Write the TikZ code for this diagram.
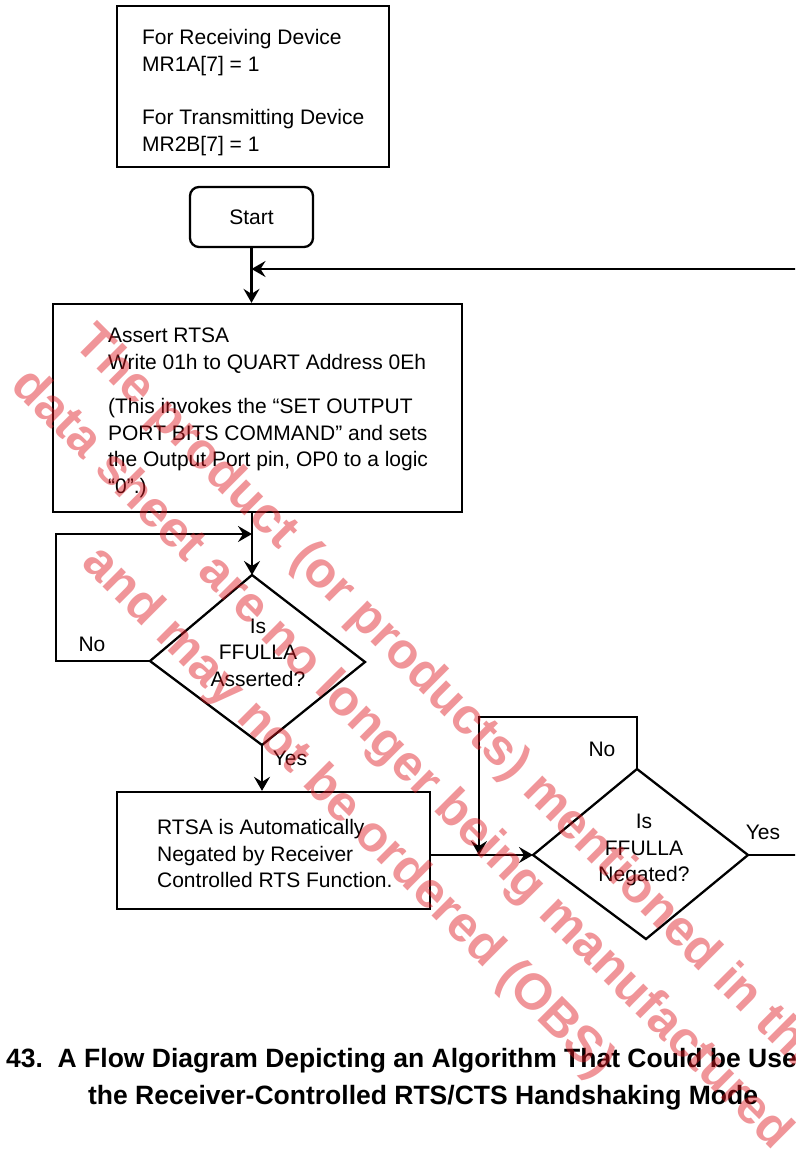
\documentclass[tikz,border=0pt]{standalone}
\usepackage{fontspec}
\setmainfont{Liberation Sans}
\usetikzlibrary{arrows.meta}
\definecolor{wm}{RGB}{222,22,30}
\begin{document}
\begin{tikzpicture}[x=1pt,y=-1pt,
  line width=2.3pt,
  arr/.style={-{Stealth[length=14pt,width=16pt,inset=5pt]}},
  box/.style={draw, rectangle, inner sep=0pt},
  txt/.style={font=\fontsize{21}{26.7}\selectfont, inner sep=0pt, align=left},
  ctxt/.style={font=\fontsize{21}{26.5}\selectfont, inner sep=0pt, align=center},
  lbl/.style={font=\fontsize{21}{26}\selectfont, inner sep=0pt},
  captext/.style={font=\bfseries\fontsize{26.5}{30}\selectfont, inner sep=0pt, anchor=base west},
  wmk/.style={rotate=-45, text=wm, text opacity=0.45, font=\bfseries\fontsize{50.5}{75}\selectfont, align=center, inner sep=0pt}]
\path[use as bounding box] (0,0) rectangle (795,1150);
\clip (0,0) rectangle (795,1150);
\fill[white] (0,0) rectangle (795,1150);

% top configuration box
\node[box, minimum width=272pt, minimum height=161pt] (cfg) at (253,86.5) {};
\node[txt, anchor=north west] (cfgtext) at (141,28.3) {For Receiving Device\\MR1A[7] = 1\\[26.7pt]For Transmitting Device\\MR2B[7] = 1};

% start
\node[draw, rounded corners=9pt, minimum width=123pt, minimum height=60pt, inner sep=0pt, font=\fontsize{21}{26}\selectfont] (start) at (251.5,217) {Start};

% assert box
\node[box, minimum width=409pt, minimum height=208pt] (assert) at (257.5,408) {};
\node[txt, anchor=north west] (asserttext) at (107,326.8) {Assert RTSA\\Write 01h to QUART Address 0Eh\\[17.3pt](This invokes the “SET OUTPUT\\PORT BITS COMMAND” and sets\\the Output Port pin, OP0 to a logic\\“0”.)};

% decision 1
\coordinate (d1t) at (252,575);
\coordinate (d1r) at (365,662);
\coordinate (d1b) at (262,745);
\coordinate (d1l) at (150,661);
\draw (d1t) -- (d1r) -- (d1b) -- (d1l) -- cycle;
\node[ctxt] (d1text) at (258,652.5) {Is\\FFULLA\\Asserted?};

% negated box
\node[box, minimum width=313pt, minimum height=117pt] (negated) at (273.5,850.5) {};
\node[txt, anchor=north west] (negtext) at (156,818) {RTSA is Automatically\\Negated by Receiver\\Controlled RTS Function.};

% decision 2
\coordinate (d2t) at (637,769);
\coordinate (d2r) at (748,855);
\coordinate (d2b) at (646,939);
\coordinate (d2l) at (533,855);
\draw (d2t) -- (d2r) -- (d2b) -- (d2l) -- cycle;
\node[ctxt] (d2text) at (644,850) {Is\\FFULLA\\Negated?};

% connectors
\coordinate (ret) at (796,269);
\coordinate (n1) at (56,534);
\coordinate (j1) at (252,534);
\coordinate (n2) at (479,717);
\coordinate (j2) at (479,855);
\coordinate (yesend) at (796,855);

\draw[arr] (start.south) -- (start.south |- assert.north);
\draw[arr] (ret) -- (start.south |- ret);
\draw[arr] (j1 |- assert.south) -- (d1t);
\draw[arr] (d1l) -| (n1) -- (j1);
\draw[arr] (d1b) -- (d1b |- negated.north);
\draw[arr] (negated.east |- d2l) -- (d2l);
\draw[arr] (d2t) |- (n2) -- (j2);
\draw (d2r) -- (yesend);

% labels
\node[lbl] (no1) at (92,644) {No};
\node[lbl] (yes1) at (290,758) {Yes};
\node[lbl] (no2) at (602,749) {No};
\node[lbl] (yes2) at (763,832) {Yes};

% caption
\node[captext] (cap1) at (5,1067.5) {43.~~A Flow Diagram Depicting an Algorithm That Could be Use};
\node[captext] (cap2) at (87,1104.5) {the Receiver-Controlled RTS/CTS Handshaking Mode};

% watermark
\node[wmk] (wmark) at (401,760) {The product (or products) mentioned in this\\data sheet are no longer being manufactured\\and may not be ordered (OBS)};
\end{tikzpicture}
\end{document}
